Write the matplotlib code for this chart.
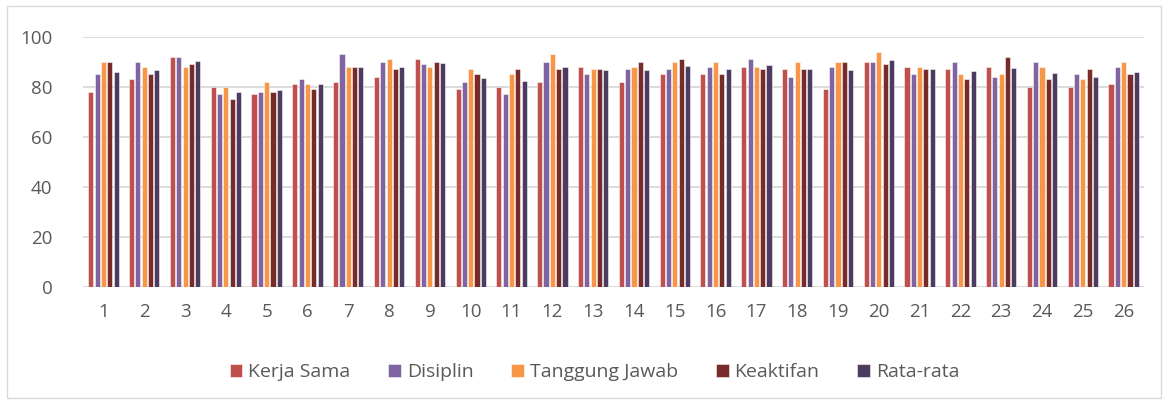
import numpy as np
import matplotlib.pyplot as plt
from matplotlib.patches import Rectangle

groups = [str(i) for i in range(1, 27)]
kerja_sama = [78, 83, 92, 80, 77, 81, 82, 84, 91, 79, 80, 82, 88, 82, 85, 85, 88, 87, 79, 90, 88, 87, 88, 80, 80, 81]
disiplin = [85, 90, 92, 77, 78, 83, 93, 90, 89, 82, 77, 90, 85, 87, 87, 88, 91, 84, 88, 90, 85, 90, 84, 90, 85, 88]
tanggung_jawab = [90, 88, 88, 80, 82, 81, 88, 91, 88, 87, 85, 93, 87, 88, 90, 90, 88, 90, 90, 94, 88, 85, 85, 88, 83, 90]
keaktifan = [90, 85, 89, 75, 78, 79, 88, 87, 90, 85, 87, 87, 87, 90, 91, 85, 87, 87, 90, 89, 87, 83, 92, 83, 87, 85]
rata_rata = [85.8, 86.5, 90.3, 78, 78.8, 81, 87.8, 88, 89.5, 83.3, 82.3, 88, 86.8, 86.8, 88.3, 87, 88.5, 87, 86.8, 90.8, 87, 86.3, 87.3, 85.3, 83.8, 86]

series = [
    ("Kerja Sama", kerja_sama, "#C0504D"),
    ("Disiplin", disiplin, "#8064A2"),
    ("Tanggung Jawab", tanggung_jawab, "#F79646"),
    ("Keaktifan", keaktifan, "#772C2A"),
    ("Rata-rata", rata_rata, "#4D3B62"),
]

plt.rcParams['font.family'] = ['Open Sans', 'DejaVu Sans']

fig = plt.figure(figsize=(11.68, 4.03), dpi=100)
ax = fig.add_axes([0.0711, 0.2886, 0.9084, 0.6203])

x = np.arange(len(groups))
slot = 0.155
for i, (name, vals, col) in enumerate(series):
    ax.bar(x + (i - 2) * slot, vals, width=0.125, color=col, label=name,
           edgecolor=(1, 1, 1, 0.6), linewidth=0.6, zorder=3)

ax.set_ylim(0, 100)
ax.set_xlim(-0.5, len(groups) - 0.5)
ax.set_yticks(range(0, 101, 20))
ax.set_xticks(x)
ax.set_xticklabels(groups)
ax.yaxis.grid(True, color="#D9D9D9", linewidth=1.3, zorder=0)
for s in ax.spines.values():
    s.set_visible(False)
ax.tick_params(axis='both', length=0, labelsize=13.5, colors="#595959")
ax.tick_params(axis='y', pad=22)
ax.tick_params(axis='x', pad=12)

leg = fig.legend(loc='center', bbox_to_anchor=(0.509, 0.077), ncol=5, frameon=False,
                 fontsize=14, labelcolor="#595959", handlelength=0.65, handleheight=0.65,
                 handletextpad=0.3, columnspacing=1.95)

fig.patches.append(Rectangle((0.006, 0.012), 0.988, 0.972, transform=fig.transFigure,
                             fill=False, edgecolor="#D9D9D9", linewidth=1))

fig.savefig("out.png", dpi=100, facecolor="white")
